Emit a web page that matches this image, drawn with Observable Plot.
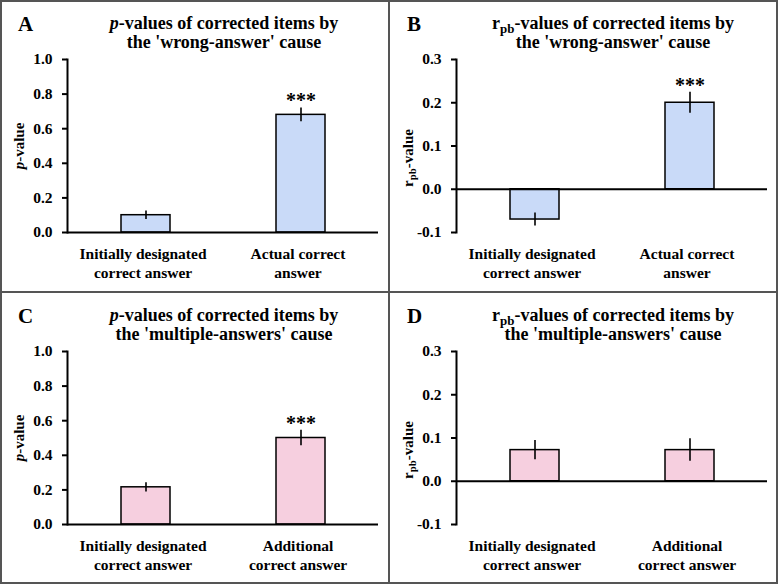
<!DOCTYPE html>
<html>
<head>
<meta charset="utf-8">
<script src="https://cdn.jsdelivr.net/npm/d3@7"></script>
<script src="https://cdn.jsdelivr.net/npm/@observablehq/plot@0.6"></script>
<style>
  body { margin: 0; background: #fff; }
  #fig {
    position: relative; width: 778px; height: 584px; overflow: hidden;
    font-family: "Liberation Serif", "Times New Roman", serif; font-weight: bold; color: #000;
  }
  .box { position: absolute; left: 0; top: 0; width: 778px; height: 584px; box-sizing: border-box; border: 2px solid #555; }
  .vline { position: absolute; left: 388px; top: 0; width: 2px; height: 584px; background: #555; }
  .hline { position: absolute; left: 0; top: 291px; width: 778px; height: 2px; background: #555; }
  .panel { position: absolute; width: 389px; height: 292px; }
  .panel svg { position: absolute; left: 0; top: 0; }
  .letter { position: absolute; left: 18px; top: 14px; font-size: 21px; line-height: 21px; }
  .title { position: absolute; left: 74px; width: 300px; top: 14px; text-align: center; font-size: 18px; line-height: 19px; white-space: nowrap; }
  .ylab { position: absolute; width: 100px; height: 16px; font-size: 15px; line-height: 16px; text-align: center; white-space: nowrap; transform: rotate(-90deg); }
  sub { font-size: 0.72em; vertical-align: -0.28em; line-height: 0; }
</style>
</head>
<body>
<div id="fig">
  <div class="box"></div>
  <div class="vline"></div>
  <div class="hline"></div>
</div>
<script>
// Categories (line breaks are the label wraps)
const wrongCats = ["Initially designated\ncorrect answer", "Actual correct\nanswer"];
const multiCats = ["Initially designated\ncorrect answer", "Additional\ncorrect answer"];

// Mean p-values and r_pb-values with their error bar half-widths
const pWrong = [0.10, 0.68];
const pWrongErr = [0.025, 0.04];
const rWrong = [-0.07, 0.20];
const rWrongErr = [0.015, 0.024];
const pMulti = [0.215, 0.50];
const pMultiErr = [0.027, 0.045];
const rMulti = [0.072, 0.072];
const rMultiErr = [0.022, 0.026];

// Significance markers
const sigWrongP = ["", "***"];
const sigWrongR = ["", "***"];
const sigMultiP = ["", "***"];
const sigMultiR = ["", ""];

// Axis ticks
const pTicks = [0, 0.2, 0.4, 0.6, 0.8, 1.0];
const rTicks = [-0.1, 0, 0.1, 0.2, 0.3];

const blue = "#c9daf8";
const pink = "#f6cfdf";

const panels = [
  {letter: "A", left: 0, top: 0, cats: wrongCats, vals: pWrong, errs: pWrongErr, sig: sigWrongP,
   domain: [0, 1], ticks: pTicks, fill: blue,
   title: "<i>p</i>-values of corrected items by<br>the 'wrong-answer' cause",
   ylab: "<i>p</i>-value", ylabY: 146},
  {letter: "B", left: 389, top: 0, cats: wrongCats, vals: rWrong, errs: rWrongErr, sig: sigWrongR,
   domain: [-0.1, 0.3], ticks: rTicks, fill: blue,
   title: "r<sub>pb</sub>-values of corrected items by<br>the 'wrong-answer' cause",
   ylab: "r<sub>pb</sub>-value", ylabY: 158},
  {letter: "C", left: 0, top: 292, cats: multiCats, vals: pMulti, errs: pMultiErr, sig: sigMultiP,
   domain: [0, 1], ticks: pTicks, fill: pink,
   title: "<i>p</i>-values of corrected items by<br>the 'multiple-answers' cause",
   ylab: "<i>p</i>-value", ylabY: 146},
  {letter: "D", left: 389, top: 292, cats: multiCats, vals: rMulti, errs: rMultiErr, sig: sigMultiR,
   domain: [-0.1, 0.3], ticks: rTicks, fill: pink,
   title: "r<sub>pb</sub>-values of corrected items by<br>the 'multiple-answers' cause",
   ylab: "r<sub>pb</sub>-value", ylabY: 158}
];

const fig = document.getElementById("fig");

for (const p of panels) {
  const rows = p.cats.map((c, i) => ({cat: c, v: p.vals[i], e: p.errs[i], sig: p.sig[i]}));

  const chart = Plot.plot({
    width: 389,
    height: 292,
    marginLeft: 67,
    marginRight: 11,
    marginTop: 59,
    marginBottom: 60,
    style: {fontFamily: '"Liberation Serif", "Times New Roman", serif', fontWeight: "bold", fontSize: "15px", background: "transparent", overflow: "visible", color: "#000"},
    x: {domain: p.cats, paddingInner: 0.685, paddingOuter: 0.3425, axis: null},
    y: {domain: p.domain},
    marks: [
      Plot.barY(rows, {x: "cat", y: "v", fill: p.fill, stroke: "#000", strokeWidth: 1.5}),
      Plot.ruleX(rows, {x: "cat", y1: d => d.v - d.e, y2: d => d.v + d.e, stroke: "#000", strokeWidth: 1.6}),
      Plot.ruleY([0], {stroke: "#000", strokeWidth: 2}),
      Plot.frame({anchor: "left", stroke: "#000", strokeWidth: 2}),
      Plot.axisY({ticks: p.ticks, tickFormat: d => d.toFixed(1), tickSize: 5, tickPadding: 10, label: null, strokeWidth: 2, fontSize: 15.5}),
      Plot.text(rows, {x: "cat", text: "cat", frameAnchor: "bottom", lineAnchor: "top", dy: 13, dx: -3, lineHeight: 1.22, fontSize: 15.5}),
      Plot.text(rows.filter(d => d.sig), {x: "cat", y: d => d.v + d.e, text: "sig", lineAnchor: "middle", dy: -7, fontSize: 20})
    ]
  });

  const div = document.createElement("div");
  div.className = "panel";
  div.style.left = p.left + "px";
  div.style.top = p.top + "px";
  div.appendChild(chart);

  const letter = document.createElement("div");
  letter.className = "letter";
  letter.textContent = p.letter;
  div.appendChild(letter);

  const title = document.createElement("div");
  title.className = "title";
  title.innerHTML = p.title;
  div.appendChild(title);

  // rotated y-axis label, box centred on (19, ylabY)
  const ylab = document.createElement("div");
  ylab.className = "ylab";
  ylab.style.left = (19 - 50) + "px";
  ylab.style.top = (p.ylabY - 8) + "px";
  ylab.innerHTML = p.ylab;
  div.appendChild(ylab);

  fig.appendChild(div);
}
</script>
</body>
</html>
